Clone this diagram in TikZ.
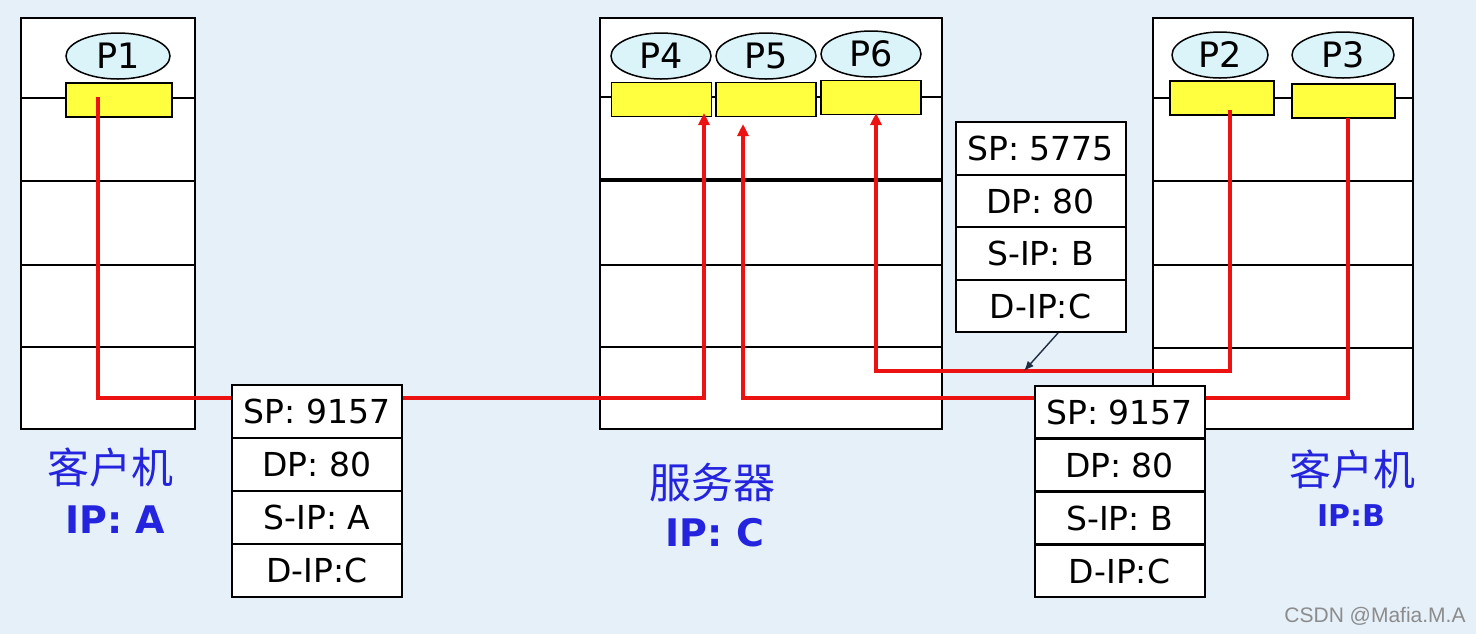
\documentclass[tikz,border=0pt]{standalone}
\usepackage{fontspec}
\setmainfont{DejaVu Sans}
\newfontfamily\cjk{Noto Sans CJK SC}
\newfontfamily\wmfont{Liberation Sans}
\usetikzlibrary{arrows.meta,shapes.geometric}
\definecolor{bg}{RGB}{230,240,249}
\definecolor{ellfill}{RGB}{218,244,250}
\definecolor{yel}{RGB}{255,255,64}
\definecolor{lblue}{RGB}{36,36,222}
\definecolor{redl}{RGB}{236,18,18}
\definecolor{arrdark}{RGB}{30,45,65}
\tikzset{
  hostbox/.style={draw,line width=1pt,fill=white,anchor=north west,inner sep=0pt,minimum height=205.5pt},
  layer/.style={line width=0.75pt},
  proc/.style={ellipse,draw,line width=0.75pt,fill=ellfill,minimum width=50pt,minimum height=23pt,inner sep=0pt,font=\fontsize{17.5}{18}\selectfont},
  sock/.style={draw,line width=0.75pt,fill=yel,minimum width=50pt,minimum height=17pt,inner sep=0pt},
  pkt/.style={draw,line width=1pt,fill=white,minimum width=85pt,minimum height=26.4pt,inner sep=0pt,font=\fontsize{16.5}{18}\selectfont},
  flow/.style={draw=redl,line width=1.8pt},
  flowarr/.style={flow,-{Triangle[length=6pt,width=5.5pt]}},
  cn/.style={text=lblue,font=\cjk\fontsize{21}{23}\selectfont,inner sep=0pt},
  ip/.style={text=lblue,font=\bfseries\fontsize{19}{21}\selectfont,inner sep=0pt},
}
\begin{document}
\begin{tikzpicture}[x=0.5pt,y=-0.5pt]
\fill[bg] (0,0) rectangle (1476,634);
\useasboundingbox (0,0) rectangle (1476,634);

% hosts
\node[hostbox,minimum width=87pt] (hostA) at (20,17) {};
\node[hostbox,minimum width=171pt] (server) at (599,17) {};
\node[hostbox,minimum width=130pt] (hostB) at (1152,17) {};

\foreach \y in {98,181,265,347} \draw[layer] (hostA.west |- 0,\y) -- (hostA.east |- 0,\y);
\draw[layer] (server.west |- 0,97) -- (server.east |- 0,97);
\draw[line width=1.6pt] (server.west |- 0,180) -- (server.east |- 0,180);
\foreach \y in {265,347} \draw[layer] (server.west |- 0,\y) -- (server.east |- 0,\y);
\foreach \y in {98,181,265,348} \draw[layer] (hostB.west |- 0,\y) -- (hostB.east |- 0,\y);

% processes and sockets
\node[proc,minimum width=52pt] (p1) at (118,56) {P1};
\node[sock,minimum width=53pt] (s1) at (119,100) {};
\node[proc] (p4) at (661,56) {P4};
\node[sock] (s4) at (661.5,99.5) {};
\node[proc] (p5) at (766,56) {P5};
\node[sock] (s5) at (766,99.5) {};
\node[proc] (p6) at (871,54) {P6};
\node[sock] (s6) at (871,97.5) {};
\node[proc,minimum width=48pt] (p2) at (1220,55) {P2};
\node[sock,minimum width=52pt] (s2) at (1222,98) {};
\node[proc,minimum width=51pt] (p3) at (1343,55) {P3};
\node[sock,minimum width=51.5pt] (s3) at (1343.5,101) {};

% flow coordinates
\coordinate (a0) at (98,97);
\coordinate (a1) at (98,398);
\coordinate (a2) at (704,398);
\coordinate (a3) at (704,113);
\coordinate (b0) at (1348,118);
\coordinate (b1) at (1348,398);
\coordinate (b2) at (743,398);
\coordinate (b3) at (743,124);
\coordinate (c0) at (1230,110);
\coordinate (c1) at (1230,371);
\coordinate (c2) at (876,371);
\coordinate (c3) at (876,113);

\draw[flowarr] (a0) -- (a1) -- (a2) -- (a3);
\draw[flowarr] (b0) -- (b1) -- (b2) -- (b3);
\draw[flowarr] (c0) -- (c1) -- (c2) -- (c3);

% packets
\node[pkt] (pa1) at (317,411.5) {SP: 9157};
\node[pkt] (pa2) at (317,464.5) {DP: 80};
\node[pkt] (pa3) at (317,517.5) {S-IP: A};
\node[pkt] (pa4) at (317,570.5) {D-IP:C};

\node[pkt] (pb1) at (1119.5,412) {SP: 9157};
\node[pkt] (pb2) at (1119.5,465) {DP: 80};
\node[pkt] (pb3) at (1119.5,518) {S-IP: B};
\node[pkt] (pb4) at (1119.5,571) {D-IP:C};

\node[pkt,minimum height=26.25pt] (pc1) at (1040.5,148.5) {SP: 5775};
\node[pkt,minimum height=26.25pt] (pc2) at (1040.5,201) {DP: 80};
\node[pkt,minimum height=26.25pt] (pc3) at (1040.5,253.5) {S-IP: B};
\node[pkt,minimum height=26.25pt] (pc4) at (1040.5,306) {D-IP:C};

\coordinate (k0) at (1058,333);
\coordinate (k1) at (1024,371);
\draw[arrdark,line width=0.7pt,-{Latex[length=5pt,width=4pt]}] (k0) -- (k1);

% labels
\node[cn] (la1) at (110,467) {客户机};
\node[ip] (la2) at (115,520) {IP: A};
\node[cn] (ls1) at (712,483) {服务器};
\node[ip] (ls2) at (715,533) {IP: C};
\node[cn] (lb1) at (1352,469) {客户机};
\node[ip,font=\bfseries\fontsize{15}{17}\selectfont] (lb2) at (1351,516) {IP:B};

\node[text=black!45,font=\wmfont\fontsize{10.5}{12}\selectfont,inner sep=0pt] (wm) at (1375,616) {CSDN @Mafia.M.A};
\end{tikzpicture}
\end{document}
